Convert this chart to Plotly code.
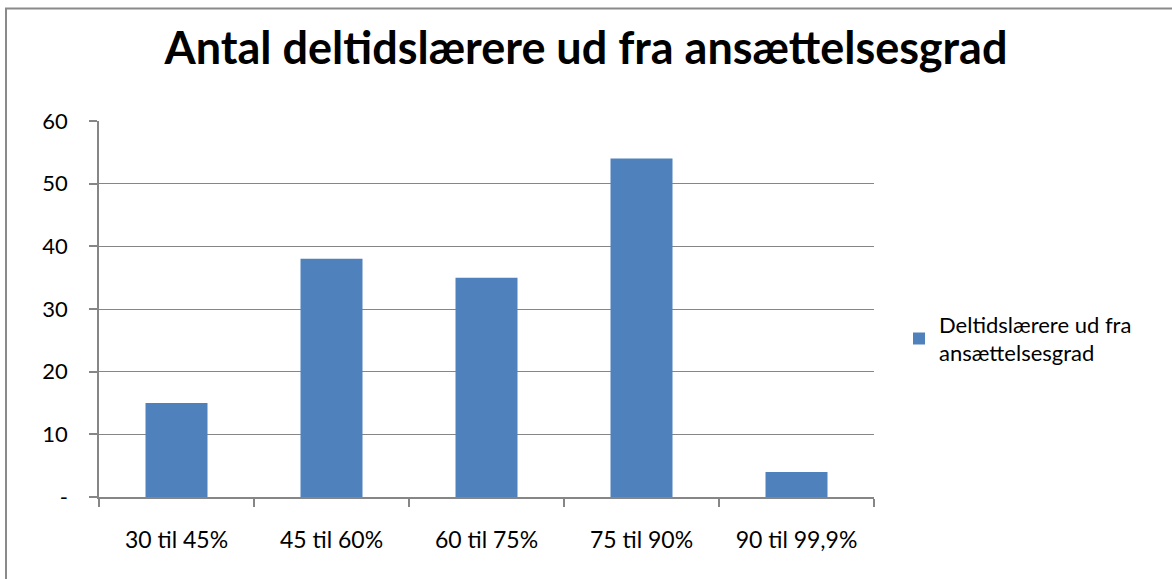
import plotly.graph_objects as go

categories = ["30 til 45%", "45 til 60%", "60 til 75%", "75 til 90%", "90 til 99,9%"]
values = [15, 38, 35, 54, 4]
series_name = "Deltidslærere ud fra<br>ansættelsesgrad"
title_text = "Antal deltidslærere ud fra ansættelsesgrad"
y_tickvals = [0, 10, 20, 30, 40, 50, 60]
y_ticktext = ["-", "10", "20", "30", "40", "50", "60"]

W, H = 1172, 579
L, R, T, B = 99, 874, 121, 497
pw, ph = R - L, B - T

def px(x):
    return (x - L) / pw

def py(y):
    return (B - y) / ph

FONT = "Lato"
GRID = "#868686"
TS = 22

fig = go.Figure()
fig.add_trace(go.Bar(x=categories, y=values, name=series_name,
                     marker=dict(color="#4F81BD", line=dict(width=0)),
                     showlegend=True))

fig.update_layout(
    width=W, height=H,
    margin=dict(l=L, r=W - R, t=T, b=H - B, pad=0),
    paper_bgcolor="white", plot_bgcolor="white",
    bargap=0.6,
    font=dict(family=FONT, size=TS, color="black"),
    title=dict(text="<b>" + title_text + "</b>", x=px(586), xref="paper",
               xanchor="center", y=1 - 48 / H, yanchor="middle",
               font=dict(family=FONT, size=45, color="black")),
    legend=dict(x=px(899), y=py(339), xanchor="left", yanchor="middle",
                font=dict(family=FONT, size=TS, color="black"),
                bgcolor="rgba(0,0,0,0)", itemwidth=30),
    xaxis=dict(showline=True, linecolor=GRID, linewidth=1.5,
               ticks="outside", ticklen=8, tickcolor=GRID, tickwidth=1.5,
               tickson="boundaries", showgrid=False,
               ticklabelstandoff=22, tickfont=dict(size=23)),
    yaxis=dict(range=[0, 60], tickvals=y_tickvals, ticktext=y_ticktext,
               showline=True, linecolor=GRID, linewidth=1.5,
               ticks="outside", ticklen=8, tickcolor=GRID, tickwidth=1.5,
               showgrid=True, gridcolor=GRID, gridwidth=1.2,
               zeroline=False, ticklabelstandoff=17, tickfont=dict(size=TS)),
    shapes=[dict(type="rect", xref="paper", yref="paper",
                 x0=px(6), x1=px(1185), y0=py(590), y1=py(8.5),
                 line=dict(color="#8a8a8a", width=2), fillcolor="rgba(0,0,0,0)",
                 layer="below")],
)

fig.write_html("out.html", config={"displayModeBar": False},
               post_script="document.body.style.margin='0';")
